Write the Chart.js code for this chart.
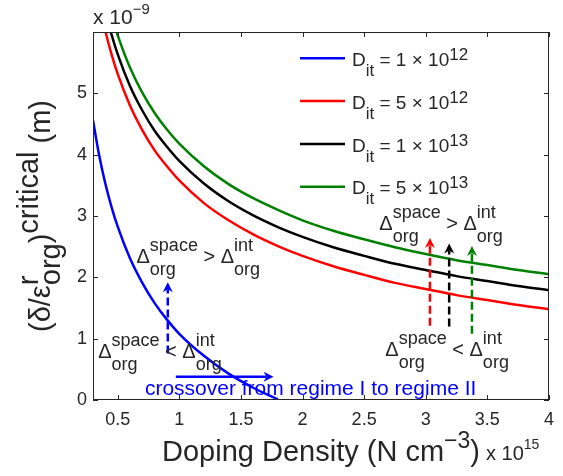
<!DOCTYPE html>
<html><head><meta charset="utf-8">
<script src="https://cdn.jsdelivr.net/npm/chart.js@4.4.0/dist/chart.umd.min.js"></script>
<style>html,body{margin:0;padding:0;background:#fff}#wrap{width:563px;height:476px}</style>
</head><body><div id="wrap"><canvas id="c" width="563" height="476"></canvas></div>
<script>
// ---- data (x in units of 1e15 cm^-3, y in units of 1e-9 m) ----
const doping  = [0.3,0.35,0.4,0.45,0.5,0.6,0.7,0.8,0.9,1.0,1.2,1.4,1.6,1.8,2.0,2.25,2.5,2.75,3.0,3.25,3.5,3.75,4.0];
const dit1e12 = [4.56,3.99,3.53,3.15,2.83,2.31,1.91,1.58,1.31,1.08,0.72,0.43,0.20,0.01,null,null,null,null,null,null,null,null,null];
const dit5e12 = [7.04,6.48,6.02,5.64,5.32,4.80,4.40,4.07,3.81,3.58,3.21,2.93,2.70,2.51,2.35,2.18,2.04,1.91,1.81,1.71,1.63,1.55,1.48];
const dit1e13 = [7.38,6.81,6.35,5.96,5.64,5.12,4.72,4.39,4.13,3.90,3.53,3.24,3.01,2.82,2.66,2.49,2.35,2.22,2.12,2.02,1.94,1.86,1.79];
const dit5e13 = [7.70,7.12,6.66,6.27,5.95,5.42,5.01,4.68,4.41,4.18,3.81,3.52,3.29,3.10,2.93,2.76,2.62,2.49,2.38,2.28,2.20,2.12,2.05];
const xTicks = [0.5,1,1.5,2,2.5,3,3.5,4];
const yTicks = [0,1,2,3,4,5];
const legendMantissa = ['1','5','1','5'];
const legendExponent = ['12','12','13','13'];
const seriesColors = ['#0000ff','#ff0000','#000000','#008000'];
// annotation anchors (data coords)
const dashedArrows = [
  {x:0.907, from:0.76, to:1.92, color:'#0000ff'},
  {x:3.034, from:1.21, to:2.64, color:'#ff0000'},
  {x:3.19,  from:1.20, to:2.55, color:'#000000'},
  {x:3.375, from:1.08, to:2.51, color:'#008000'}
];
const crossoverArrow = {from:0.972, to:1.765, y:0.38};
const relationLabels = [
  {x:0.653, y:2.23, op:'>'},
  {x:0.342, y:0.68, op:'<'},
  {x:2.623, y:2.77, op:'>'},
  {x:2.672, y:0.71, op:'<'}
];
const crossoverText = {x:0.721, y:0.08, text:'crossover from regime I to regime II'};

const FAM = "'Liberation Sans', Arial, Helvetica, sans-serif";
const TXT = '#262626';

function rich(ctx, x, y, parts, draw) {
  let cx = x;
  for (const p of parts) {
    ctx.font = p.s + 'px ' + FAM;
    if (p.t !== undefined) {
      if (draw) ctx.fillText(p.t, cx, y + (p.dy || 0));
      cx += ctx.measureText(p.t).width;
    } else {
      let w1 = 0, w2 = 0;
      if (p.sup) { if (draw) ctx.fillText(p.sup, cx, y - p.up); w1 = ctx.measureText(p.sup).width; }
      if (p.sub) { if (draw) ctx.fillText(p.sub, cx, y + p.down); w2 = ctx.measureText(p.sub).width; }
      cx += Math.max(w1, w2);
    }
  }
  return cx - x;
}

function arrowHead(ctx, tx, ty, ang, color) {
  const L = 10, W = 5, N = 3;
  ctx.save();
  ctx.translate(tx, ty); ctx.rotate(ang);
  ctx.fillStyle = color;
  ctx.beginPath();
  ctx.moveTo(0, 0);
  ctx.lineTo(-L, -W);
  ctx.lineTo(-L + N, 0);
  ctx.lineTo(-L, W);
  ctx.closePath();
  ctx.fill();
  ctx.restore();
}

const decor = {
  id: 'decor',
  afterDraw(chart) {
    const ctx = chart.ctx, a = chart.chartArea;
    const xs = chart.scales.x, ys = chart.scales.y;
    ctx.save();
    ctx.textBaseline = 'alphabetic';
    ctx.textAlign = 'left';
    // box + inward ticks
    ctx.strokeStyle = TXT; ctx.lineWidth = 1;
    ctx.strokeRect(a.left + 0.5, a.top + 0.5, a.right - a.left - 1, a.bottom - a.top - 1);
    ctx.beginPath();
    xTicks.forEach(v => {
      const px = Math.round(xs.getPixelForValue(v)) + 0.5;
      ctx.moveTo(px, a.bottom); ctx.lineTo(px, a.bottom - 5);
      ctx.moveTo(px, a.top); ctx.lineTo(px, a.top + 5);
    });
    yTicks.forEach(v => {
      const py = Math.round(ys.getPixelForValue(v)) + 0.5;
      ctx.moveTo(a.left, py); ctx.lineTo(a.left + 5, py);
      ctx.moveTo(a.right, py); ctx.lineTo(a.right - 5, py);
    });
    ctx.stroke();

    // dashed vertical arrows
    dashedArrows.forEach(d => {
      const px = xs.getPixelForValue(d.x);
      const y0 = ys.getPixelForValue(d.from), y1 = ys.getPixelForValue(d.to);
      ctx.strokeStyle = d.color; ctx.lineWidth = 2.5; ctx.setLineDash([8, 4]);
      ctx.beginPath(); ctx.moveTo(px, y0); ctx.lineTo(px, y1 + 7); ctx.stroke();
      ctx.setLineDash([]);
      arrowHead(ctx, px, y1, -Math.PI / 2, d.color);
    });
    // crossover arrow
    {
      const x0 = xs.getPixelForValue(crossoverArrow.from), x1 = xs.getPixelForValue(crossoverArrow.to);
      const py = ys.getPixelForValue(crossoverArrow.y);
      ctx.strokeStyle = '#0000ff'; ctx.lineWidth = 2.5;
      ctx.beginPath(); ctx.moveTo(x0, py); ctx.lineTo(x1 - 7, py); ctx.stroke();
      arrowHead(ctx, x1, py, 0, '#0000ff');
    }
    // relation labels
    ctx.fillStyle = TXT;
    relationLabels.forEach(r => {
      const px = xs.getPixelForValue(r.x), py = ys.getPixelForValue(r.y);
      rich(ctx, px, py, [
        {t:'\u0394', s:20},
        {sup:'space', sub:'org', s:18, up:12, down:12},
        {t:' ' + r.op + ' ', s:20},
        {t:'\u0394', s:20},
        {sup:'int', sub:'org', s:18, up:12, down:12}
      ], true);
    });
    // crossover text
    ctx.fillStyle = '#0000ff';
    ctx.font = '21px ' + FAM;
    ctx.fillText(crossoverText.text, xs.getPixelForValue(crossoverText.x), ys.getPixelForValue(crossoverText.y));

    // legend
    for (let i = 0; i < 4; i++) {
      const ly = 58.3 + i * 42.8;
      ctx.strokeStyle = seriesColors[i]; ctx.lineWidth = 2.5;
      ctx.beginPath(); ctx.moveTo(300, ly); ctx.lineTo(345, ly); ctx.stroke();
      ctx.fillStyle = TXT;
      rich(ctx, 352, ly + 7.7, [
        {t:'D', s:19},
        {sub:'it', s:17, down:10},
        {t:' = ' + legendMantissa[i] + ' \u00d7 10', s:19},
        {sup:legendExponent[i], s:17, up:6}
      ], true);
    }

    // exponent labels
    ctx.fillStyle = TXT;
    rich(ctx, a.left, 24, [{t:'x 10', s:21}, {sup:'\u22129', s:15, up:10}], true);
    const xt = [{t:'Doping Density (N cm', s:29}, {sup:'\u22123', s:23, up:13}, {t:')', s:29}];
    const wX = rich(ctx, 0, 0, xt, false);
    const cxm = (a.left + a.right) / 2;
    const endX = cxm - wX / 2 + rich(ctx, cxm - wX / 2, 461, xt, true);
    rich(ctx, endX + 6, 460, [{t:'x 10', s:20}, {sup:'15', s:14, up:11}], true);

    // y title (rotated)
    const yt = [
      {t:'(\u03b4/\u03b5', s:29},
      {sup:'r', sub:'org', s:29, up:12, down:10},
      {t:')', s:29},
      {sup:'critical', s:29, up:12},
      {t:' (m)', s:29}
    ];
    const wY = rich(ctx, 0, 0, yt, false);
    ctx.translate(50, (a.top + a.bottom) / 2);
    ctx.rotate(-Math.PI / 2);
    rich(ctx, -wY / 2, 0, yt, true);
    ctx.restore();
  }
};

function pts(vals) {
  return doping.map((x, i) => ({x, y: vals[i]})).filter(p => p.y !== null);
}

new Chart(document.getElementById('c'), {
  type: 'line',
  data: {
    datasets: [
      {label:'Dit=1e12', data: pts(dit1e12), borderColor: seriesColors[0]},
      {label:'Dit=5e12', data: pts(dit5e12), borderColor: seriesColors[1]},
      {label:'Dit=1e13', data: pts(dit1e13), borderColor: seriesColors[2]},
      {label:'Dit=5e13', data: pts(dit5e13), borderColor: seriesColors[3]}
    ]
  },
  options: {
    responsive: false,
    animation: false,
    devicePixelRatio: 1,
    elements: {
      line: {borderWidth: 2.5, cubicInterpolationMode: 'monotone', fill: false},
      point: {radius: 0, hoverRadius: 0}
    },
    layout: {padding: {top: 32, right: 13, left: 0, bottom: 0}},
    plugins: {legend: {display: false}, tooltip: {enabled: false}},
    scales: {
      x: {
        type: 'linear', min: 0.3, max: 4,
        grid: {display: false, drawTicks: false},
        border: {display: false},
        afterBuildTicks: s => { s.ticks = xTicks.map(v => ({value: v})); },
        afterFit: s => { s.height = 76; },
        ticks: {padding: 9, color: TXT, font: {family: FAM, size: 18}, maxRotation: 0,
                callback: v => String(v)}
      },
      y: {
        type: 'linear', min: 0, max: 6,
        grid: {display: false, drawTicks: false},
        border: {display: false},
        afterBuildTicks: s => { s.ticks = yTicks.map(v => ({value: v})); },
        afterFit: s => { s.width = 93; },
        ticks: {padding: 6, color: TXT, font: {family: FAM, size: 18}, callback: v => String(v)}
      }
    }
  },
  plugins: [decor]
});
</script>
</body></html>
